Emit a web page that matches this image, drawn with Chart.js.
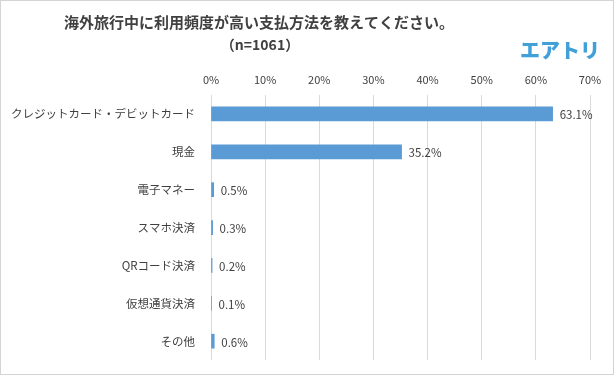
<!DOCTYPE html>
<html>
<head>
<meta charset="utf-8">
<script src="https://cdn.jsdelivr.net/npm/chart.js@4"></script>
<style>
  body { margin: 0; background: #fff; }
  #wrap { width: 614px; height: 375px; }
</style>
</head>
<body>
<div id="wrap"><canvas id="myChart" width="614" height="375"></canvas></div>
<script>
const categories = ["クレジットカード・デビットカード", "現金", "電子マネー", "スマホ決済", "QRコード決済", "仮想通貨決済", "その他"];
const values = [63.1, 35.2, 0.5, 0.3, 0.2, 0.1, 0.6];
const titleLines = ["海外旅行中に利用頻度が高い支払方法を教えてください。", "（n=1061）"];
const logoText = "エアトリ";

const FONT = "'Noto Sans CJK JP', 'Noto Sans', sans-serif";

const decorPlugin = {
  id: "decor",
  beforeDraw(chart) {
    const ctx = chart.ctx;
    ctx.save();
    ctx.fillStyle = "#ffffff";
    ctx.fillRect(0, 0, chart.width, chart.height);
    ctx.restore();
  },
  afterDraw(chart) {
    const ctx = chart.ctx;
    ctx.save();
    // frame
    ctx.strokeStyle = "#d4d4d4";
    ctx.lineWidth = 1;
    ctx.strokeRect(0.5, 0.5, chart.width - 1, chart.height - 1);

    // title
    ctx.fillStyle = "#404040";
    ctx.textAlign = "center";
    ctx.textBaseline = "middle";
    ctx.font = "bold 15px " + FONT;
    ctx.fillText(titleLines[0], 259, 22);
    ctx.font = "bold 14px " + FONT;
    ctx.fillText(titleLines[1], 260, 45);

    // logo
    ctx.fillStyle = "#41a0d8";
    ctx.font = "900 20px " + FONT;
    ctx.textAlign = "right";
    ctx.fillText(logoText, 600, 50);

    // value labels
    const meta = chart.getDatasetMeta(0);
    ctx.fillStyle = "#404040";
    ctx.font = "11.5px " + FONT;
    ctx.textAlign = "left";
    meta.data.forEach((bar, i) => {
      ctx.fillText(values[i].toFixed(1) + "%", bar.x + 7, bar.y + 1);
    });
    ctx.restore();
  }
};

const data = {
  labels: categories,
  datasets: [
    {
      data: values,
      backgroundColor: "#5b9bd5",
      borderWidth: 0,
      barThickness: 14,
    },
  ],
};

const options = {
  indexAxis: "y",
  responsive: false,
  animation: false,
  layout: {
    padding: { top: 68, right: 24, bottom: 14, left: 0 },
  },
  plugins: {
    legend: { display: false },
    tooltip: { enabled: false },
  },
  scales: {
    x: {
      position: "top",
      min: 0,
      max: 70,
      ticks: {
        stepSize: 10,
        color: "#404040",
        font: { family: FONT, size: 11 },
        padding: 9,
        callback: v => v + "%",
      },
      grid: {
        color: "#d9d9d9",
        drawTicks: false,
      },
      border: { display: false },
      afterFit: scale => { scale.height = 27; },
    },
    y: {
      ticks: {
        color: "#404040",
        font: { family: FONT, size: 11.5 },
        padding: 8,
      },
      grid: { display: false },
      border: { display: false },
      afterFit: scale => { scale.width = 211; },
    },
  },
};

const myChart = new Chart(document.getElementById("myChart"), {
  type: "bar",
  data,
  options,
  plugins: [decorPlugin],
});
</script>
</body>
</html>
